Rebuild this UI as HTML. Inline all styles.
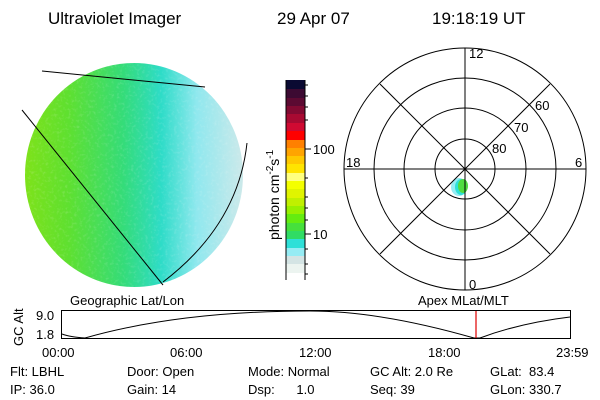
<!DOCTYPE html>
<html><head><style>
body{margin:0;background:#fff;}
svg{display:block;font-family:"Liberation Sans",sans-serif;}
</style></head><body>
<svg width="600" height="400" viewBox="0 0 600 400">
<defs>
<linearGradient id="g" x1="25" y1="0" x2="245" y2="0" gradientUnits="userSpaceOnUse">
<stop offset="0" stop-color="#7ee21a"/>
<stop offset="0.2" stop-color="#5ee030"/>
<stop offset="0.45" stop-color="#34dc7a"/>
<stop offset="0.62" stop-color="#2edcc8"/>
<stop offset="0.78" stop-color="#8fe8ee"/>
<stop offset="1" stop-color="#cfe9ea"/>
</linearGradient>
<filter id="n"><feTurbulence type="fractalNoise" baseFrequency="0.35" numOctaves="2" seed="3"/><feColorMatrix values="0 0 0 0 1  0 0 0 0 1  0 0 0 0 1  0 0 0 1.6 -0.8"/></filter>
<clipPath id="c"><ellipse cx="134" cy="175" rx="109" ry="112"/></clipPath>
</defs>
<g font-size="17" fill="#000">
<text x="48" y="24">Ultraviolet Imager</text>
<text x="277" y="24">29 Apr 07</text>
<text x="432" y="24">19:18:19 UT</text>
</g>
<ellipse cx="134" cy="175" rx="109" ry="112" fill="url(#g)"/>
<rect x="20" y="60" width="230" height="230" clip-path="url(#c)" filter="url(#n)" opacity="0.25"/>
<g fill="none" stroke="#000" stroke-width="1">
<line x1="42" y1="71" x2="205" y2="87"/>
<line x1="22" y1="110" x2="163" y2="285"/>
<path d="M247 143 Q238 225 163 282"/>
</g>
<g id="cb">
<rect x="286" y="80" width="19" height="9" fill="#0a0a32"/>
<rect x="286" y="89" width="19" height="9" fill="#3c0a32"/>
<rect x="286" y="98" width="19" height="8" fill="#5c0a32"/>
<rect x="286" y="106" width="19" height="8" fill="#820a32"/>
<rect x="286" y="114" width="19" height="9" fill="#a80a32"/>
<rect x="286" y="123" width="19" height="8" fill="#d00a32"/>
<rect x="286" y="131" width="19" height="9" fill="#ff0000"/>
<rect x="286" y="140" width="19" height="8" fill="#ff8000"/>
<rect x="286" y="148" width="19" height="8" fill="#ffa400"/>
<rect x="286" y="156" width="19" height="8" fill="#ffc800"/>
<rect x="286" y="164" width="19" height="9" fill="#ffe400"/>
<rect x="286" y="173" width="19" height="8" fill="#ffff80"/>
<rect x="286" y="181" width="19" height="8" fill="#f4ff00"/>
<rect x="286" y="189" width="19" height="9" fill="#e0f400"/>
<rect x="286" y="198" width="19" height="8" fill="#c0f000"/>
<rect x="286" y="206" width="19" height="8" fill="#98f000"/>
<rect x="286" y="214" width="19" height="9" fill="#64ec10"/>
<rect x="286" y="223" width="19" height="8" fill="#46e03c"/>
<rect x="286" y="231" width="19" height="8" fill="#30dc64"/>
<rect x="286" y="239" width="19" height="9" fill="#2ee0d8"/>
<rect x="286" y="248" width="19" height="8" fill="#96ecf4"/>
<rect x="286" y="256" width="19" height="8" fill="#d4e4e4"/>
<rect x="286" y="264" width="19" height="9" fill="#ecf4f0"/>
<line x1="286" y1="80" x2="286" y2="280" stroke="#000"/>
<line x1="305" y1="80" x2="305" y2="280" stroke="#000"/>
<g stroke="#000"><line x1="305" y1="149" x2="311" y2="149"/><line x1="305" y1="234" x2="311" y2="234"/>
<line x1="305" y1="85" x2="308" y2="85"/><line x1="305" y1="96" x2="308" y2="96"/><line x1="305" y1="107" x2="308" y2="107"/><line x1="305" y1="120" x2="308" y2="120"/><line x1="305" y1="178" x2="308" y2="178"/><line x1="305" y1="197" x2="308" y2="197"/><line x1="305" y1="208" x2="308" y2="208"/><line x1="305" y1="220" x2="308" y2="220"/><line x1="305" y1="249" x2="308" y2="249"/><line x1="305" y1="264" x2="308" y2="264"/><line x1="305" y1="274" x2="308" y2="274"/></g>
<text x="313" y="154" font-size="13">100</text>
<text x="313" y="239" font-size="13">10</text>
<text transform="translate(279,240) rotate(-90)" font-size="14">photon cm<tspan font-size="10" dy="-6">-2</tspan><tspan dy="6">s</tspan><tspan font-size="10" dy="-6">-1</tspan></text>
</g>
<g>
<ellipse cx="459" cy="187" rx="8" ry="9" fill="#96ecf4"/>
<ellipse cx="461" cy="187" rx="6" ry="8" fill="#2ee0d8"/>
<ellipse cx="463" cy="186" rx="5" ry="7" fill="#50dc40"/>
</g>
<g fill="none" stroke="#000">
<circle cx="465" cy="169" r="30"/><circle cx="465" cy="169" r="61"/><circle cx="465" cy="169" r="91"/><circle cx="465" cy="169" r="121"/>
<line x1="344" y1="169" x2="586" y2="169"/><line x1="465" y1="48" x2="465" y2="290"/>
<line x1="380" y1="84" x2="550" y2="254"/><line x1="550" y1="84" x2="380" y2="254"/>
</g>
<g font-size="13" fill="#000">
<text x="469" y="58">12</text><text x="346" y="167">18</text><text x="575" y="167">6</text><text x="469" y="289">0</text>
<text x="535" y="110">60</text><text x="514" y="132">70</text><text x="492" y="153">80</text>
</g>
<g font-size="13" fill="#000">
<text x="70" y="305">Geographic Lat/Lon</text>
<text x="418" y="305">Apex MLat/MLT</text>
<text x="36" y="320">9.0</text><text x="36" y="339">1.8</text>
<text transform="translate(23,346) rotate(-90)">GC Alt</text>
<text x="42" y="357">00:00</text><text x="170" y="357">06:00</text><text x="299" y="357">12:00</text><text x="428" y="357">18:00</text><text x="556" y="357">23:59</text>
<text x="10" y="376">Flt: LBHL</text><text x="10" y="394">IP: 36.0</text>
<text x="127" y="376">Door: Open</text><text x="127" y="394">Gain: 14</text>
<text x="248" y="376">Mode: Normal</text><text x="248" y="394">Dsp:&#160;&#160;&#160;&#160;&#160;&#160;1.0</text>
<text x="370" y="376">GC Alt: 2.0 Re</text><text x="370" y="394">Seq: 39</text>
<text x="490" y="376">GLat:&#160;&#160;83.4</text><text x="490" y="394">GLon: 330.7</text>
</g>
<rect x="61.5" y="310.5" width="509" height="28" fill="none" stroke="#000"/>
<path d="M62 334 Q70 337 85 338 Q180 311 310 311 Q380 311 474 338 L480 338 Q520 323 570 317" fill="none" stroke="#000"/>
<line x1="476" y1="311" x2="476" y2="338" stroke="#e00000" stroke-width="1.2"/>
</svg>
</body></html>
